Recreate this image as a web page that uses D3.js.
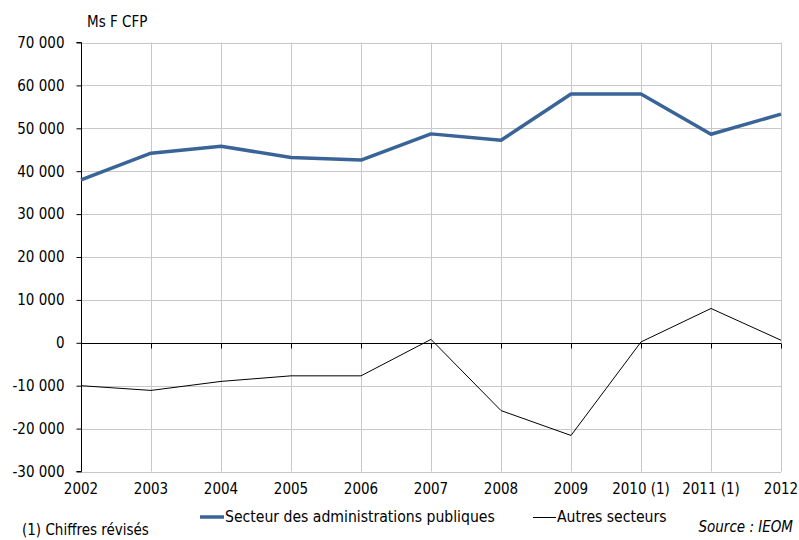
<!DOCTYPE html>
<html><head><meta charset="utf-8">
<script src="https://cdn.jsdelivr.net/npm/d3@7"></script>
<style>
body{margin:0;background:#fff;}
svg text{font-family:"DejaVu Sans Condensed","DejaVu Sans",sans-serif;font-stretch:condensed;fill:#000;}
</style></head>
<body><svg id="c" width="799" height="540"></svg>
<script>
const categories = ["2002","2003","2004","2005","2006","2007","2008","2009","2010 (1)","2011 (1)","2012"];
const adminPubliques = [38000,44200,45800,43200,42600,48700,47200,58000,58000,48600,53300];
const autresSecteurs = [-10000,-11100,-9000,-7700,-7700,800,-15800,-21600,200,8000,600];
const yTicks = [-30000,-20000,-10000,0,10000,20000,30000,40000,50000,60000,70000];
const seriesNames = ["Secteur des administrations publiques","Autres secteurs"];

const svg = d3.select("#c");
const pLeft = 81, pRight = 781, pTop = 42.5, pBottom = 471.5;
const x = d3.scalePoint().domain(categories).range([pLeft, pRight]);
const y = d3.scaleLinear().domain([-30000, 70000]).range([pBottom, pTop]);
const fmt = v => d3.format(",")(v).replace(/,/g, " ").replace("−", "-");
const fs = 15;
const ff = '"DejaVu Sans Condensed","DejaVu Sans",sans-serif';

// gridlines
svg.append("g").selectAll("line").data(yTicks).join("line")
  .attr("x1", pLeft).attr("x2", pRight)
  .attr("y1", d => Math.round(y(d)) + 0.5).attr("y2", d => Math.round(y(d)) + 0.5)
  .attr("stroke", "#c8c8c8").attr("stroke-width", 1);
svg.append("g").selectAll("line").data(categories.slice(1)).join("line")
  .attr("x1", d => Math.round(x(d)) + 0.5).attr("x2", d => Math.round(x(d)) + 0.5)
  .attr("y1", pTop).attr("y2", pBottom)
  .attr("stroke", "#c8c8c8").attr("stroke-width", 1);

// y axis
const yAxis = svg.append("g").attr("transform", `translate(${pLeft + 0.5},0)`)
  .call(d3.axisLeft(y).tickValues(yTicks).tickFormat(fmt).tickSize(5).tickPadding(12));
yAxis.select(".domain").attr("stroke", "#000").attr("d", `M-5,${pTop}H0V${pBottom}H-5`);
yAxis.selectAll(".tick line").attr("stroke", "#000");
yAxis.selectAll(".tick text").attr("font-size", fs).attr("font-family", ff);

// x axis at zero
const xAxis = svg.append("g").attr("transform", `translate(0,${Math.round(y(0)) + 0.5})`)
  .call(d3.axisBottom(x).tickSize(5).tickFormat(""));
xAxis.select(".domain").attr("stroke", "#000").attr("d", `M${pLeft},0H${pRight}`);
xAxis.selectAll(".tick line").attr("stroke", "#000");

// x labels at bottom
svg.append("g").selectAll("text").data(categories).join("text")
  .attr("x", d => x(d)).attr("y", 494)
  .attr("text-anchor", "middle").attr("font-size", fs).text(d => d);

// lines
const line = vals => d3.line().x((d, i) => x(categories[i])).y(d => y(d))(vals);
svg.append("path").attr("d", line(autresSecteurs))
  .attr("fill", "none").attr("stroke", "#000").attr("stroke-width", 1);
svg.append("path").attr("d", line(adminPubliques))
  .attr("fill", "none").attr("stroke", "#3a6497").attr("stroke-width", 3.5)
  .attr("stroke-linejoin", "round");

// unit label
svg.append("text").attr("x", 87).attr("y", 27).attr("font-size", fs).text("Ms F CFP");

// legend
const lfs = 15.6;
svg.append("line").attr("x1", 200).attr("x2", 224).attr("y1", 517).attr("y2", 517)
  .attr("stroke", "#3a6497").attr("stroke-width", 3.5);
svg.append("text").attr("x", 225).attr("y", 522).attr("font-size", lfs).text(seriesNames[0]);
svg.append("line").attr("x1", 533).attr("x2", 556).attr("y1", 517.5).attr("y2", 517.5)
  .attr("stroke", "#000").attr("stroke-width", 1);
svg.append("text").attr("x", 557).attr("y", 522).attr("font-size", lfs).text(seriesNames[1]);

svg.append("text").attr("x", 22).attr("y", 535).attr("font-size", fs).text("(1) Chiffres révisés");
svg.append("text").attr("x", 793).attr("y", 532).attr("font-size", fs)
  .attr("text-anchor", "end").attr("font-style", "italic").text("Source : IEOM");
</script></body></html>
